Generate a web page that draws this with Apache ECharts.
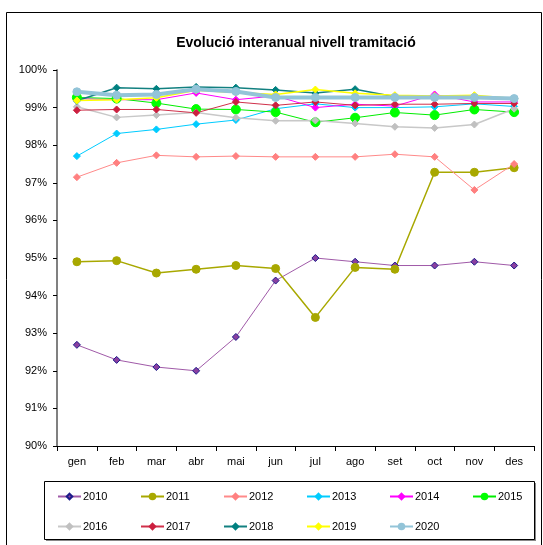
<!DOCTYPE html>
<html>
<head>
<meta charset="utf-8">
<script src="https://cdn.jsdelivr.net/npm/echarts@6/dist/echarts.min.js"></script>
<style>
  html, body { margin: 0; padding: 0; background: #fff; }
  #main { width: 543px; height: 545px; }
</style>
</head>
<body>
<div id="main"></div>
<script>
var months = ["gen", "feb", "mar", "abr", "mai", "jun", "jul", "ago", "set", "oct", "nov", "des"];
var years = ["2010", "2011", "2012", "2013", "2014", "2015", "2016", "2017", "2018", "2019", "2020"];

var v2010 = [92.69, 92.29, 92.1, 92.0, 92.9, 94.4, 95.0, 94.9, 94.8, 94.8, 94.9, 94.8];
var v2011 = [94.9, 94.93, 94.6, 94.7, 94.8, 94.72, 93.42, 94.75, 94.7, 97.28, 97.28, 97.4];
var v2012 = [97.15, 97.53, 97.73, 97.69, 97.71, 97.69, 97.69, 97.69, 97.76, 97.69, 96.81, 97.5];
var v2013 = [97.71, 98.31, 98.42, 98.56, 98.67, 98.97, 99.1, 99.0, 99.0, 99.02, 99.1, 99.03];
var v2014 = [99.24, 99.21, 99.21, 99.39, 99.21, 99.31, 99.0, 99.09, 99.04, 99.35, 99.15, 99.15];
var v2015 = [99.27, 99.24, 99.12, 98.96, 98.95, 98.88, 98.61, 98.73, 98.87, 98.8, 98.95, 98.88];
var v2016 = [99.02, 98.74, 98.8, 98.87, 98.73, 98.65, 98.66, 98.58, 98.49, 98.46, 98.55, 98.97];
var v2017 = [98.93, 98.95, 98.95, 98.86, 99.15, 99.06, 99.15, 99.06, 99.09, 99.09, 99.11, 99.11];
var v2018 = [99.18, 99.53, 99.5, 99.55, 99.53, 99.47, 99.39, 99.49, 99.29, 99.29, 99.26, 99.24];
var v2019 = [99.19, 99.21, 99.26, 99.46, 99.4, 99.35, 99.48, 99.38, 99.33, 99.31, 99.33, 99.24];
var v2020 = [99.42, 99.33, 99.35, 99.49, 99.43, 99.27, 99.27, 99.27, 99.27, 99.27, 99.27, 99.24];
var values = [v2010, v2011, v2012, v2013, v2014, v2015, v2016, v2017, v2018, v2019, v2020];

// line colour, marker fill, marker border, symbol, size, width
var looks = [
  ["#a05aa8", "#8a3fa0", "#1c1c8a", "diamond", 7, 1],
  ["#a8a800", "#a8a800", "#a8a800", "circle", 8, 1.5],
  ["#ff8a8a", "#ff8080", "#ff8080", "diamond", 7, 1],
  ["#00ccff", "#00ccff", "#00ccff", "diamond", 7, 1],
  ["#ff00ff", "#ff00ff", "#ff00ff", "diamond", 7, 1],
  ["#00ee00", "#00ff00", "#00ff00", "circle", 9, 1],
  ["#c8c8c8", "#c0c0c0", "#c0c0c0", "diamond", 7, 1.5],
  ["#d0304a", "#cc1f3f", "#cc1f3f", "diamond", 7, 1],
  ["#128080", "#008080", "#008080", "diamond", 7, 1.5],
  ["#ffff00", "#ffff00", "#ffff00", "diamond", 7, 1.5],
  ["#93c4d8", "#93c4d8", "#93c4d8", "circle", 8, 4]
];

var series = years.map(function (y, i) {
  var l = looks[i];
  return {
    name: y,
    type: "line",
    data: values[i],
    symbol: l[3],
    symbolSize: l[4],
    lineStyle: { color: l[0], width: l[5] },
    itemStyle: { color: l[1], borderColor: l[2], borderWidth: 1 },
    emphasis: { disabled: true }
  };
});

var legends = years.map(function (y, i) {
  var col = i % 6, row = Math.floor(i / 6);
  return {
    data: [y],
    left: 57 + col * 83,
    top: 491 + row * 30,
    padding: 0,
    itemWidth: 23,
    itemHeight: 7,
    itemGap: 2,
    textStyle: { fontFamily: "Liberation Sans", fontSize: 11, color: "#000", padding: [0, 0, 0, -3] },
    selectedMode: false
  };
});

var myChart = echarts.init(document.getElementById("main"));
var option = {
  animation: false,
  backgroundColor: "#fff",
  title: {
    text: "Evolució interanual nivell tramitació",
    left: 291,
    textAlign: "center",
    top: 31,
    textStyle: { fontFamily: "Liberation Sans", fontSize: 14, fontWeight: "bold", color: "#000" }
  },
  graphic: [
    {
      type: "rect",
      shape: { x: 6.5, y: 12.5, width: 535, height: 560 },
      style: { fill: "none", stroke: "#000", lineWidth: 1 },
      z: -1
    },
    {
      type: "rect",
      shape: { x: 46, y: 483, width: 490, height: 58 },
      style: { fill: "#888", stroke: null },
      z: -1
    },
    {
      type: "rect",
      shape: { x: 44.5, y: 481.5, width: 490, height: 58 },
      style: { fill: "#fff", stroke: "#000", lineWidth: 1 },
      z: -1
    }
  ],
  legend: legends,
  grid: { left: 57, right: 9, top: 70, bottom: 99 },
  xAxis: {
    type: "category",
    data: months,
    boundaryGap: true,
    axisLine: { lineStyle: { color: "#000", width: 1 } },
    axisTick: { show: true, length: 5, lineStyle: { color: "#000" } },
    axisLabel: { color: "#000", fontFamily: "Liberation Sans", fontSize: 11, margin: 10 }
  },
  yAxis: {
    type: "value",
    min: 90,
    max: 100,
    interval: 1,
    axisLine: { show: true, lineStyle: { color: "#808080", width: 2 } },
    axisTick: { show: true, length: 4, lineStyle: { color: "#000" } },
    splitLine: { show: false },
    axisLabel: { color: "#000", fontFamily: "Liberation Sans", fontSize: 11, margin: 10, formatter: "{value}%" }
  },
  series: series
};
myChart.setOption(option);
</script>
</body>
</html>
